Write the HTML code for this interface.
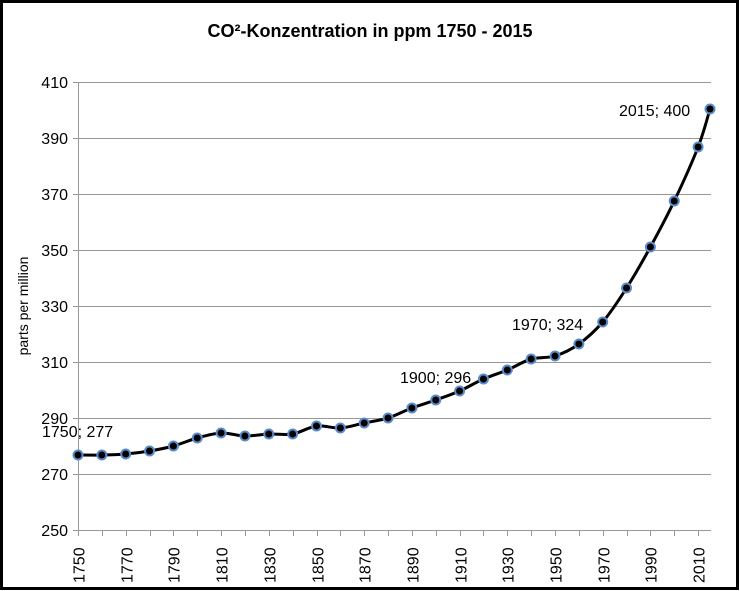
<!DOCTYPE html>
<html><head><meta charset="utf-8"><style>
html,body{margin:0;padding:0;background:#fff}
svg{display:block}
text{font-family:"Liberation Sans",sans-serif;fill:#000}
</style></head><body>
<svg id="s" width="740" height="591" viewBox="0 0 740 591" xmlns="http://www.w3.org/2000/svg">
<rect x="1.5" y="1.5" width="736" height="587" fill="#fff" stroke="#000" stroke-width="3"/>
<text x="370" y="37" text-anchor="middle" font-size="18" font-weight="bold">CO²-Konzentration in ppm 1750 - 2015</text>
<g id="grid" stroke="#999" stroke-width="1"></g>
<g id="ylab" font-size="16" text-anchor="end"></g>
<g id="xlab" font-size="16"></g>
<text transform="translate(28,306) rotate(-90)" text-anchor="middle" font-size="14">parts per million</text>
<path id="curve" fill="none" stroke="#000" stroke-width="3"/>
<g id="pts"></g>
<g font-size="16">
<text x="42" y="437">1750; 277</text>
<text x="400" y="383">1900; 296</text>
<text x="512" y="330">1970; 324</text>
<text x="619" y="116">2015; 400</text>
</g>
</svg>
<script>
var NS="http://www.w3.org/2000/svg";
function el(t,a,p){var e=document.createElementNS(NS,t);for(var k in a)e.setAttribute(k,a[k]);document.getElementById(p).appendChild(e);return e;}
var X0=78,X1=711;
for(var v=250;v<=410;v+=20){var y=82+(410-v)*2.8;
 if(v>250)el("line",{x1:X0,x2:X1,y1:y+.5,y2:y+.5},"grid");
 el("line",{x1:X0-5,x2:X0,y1:y+.5,y2:y+.5},"grid");
 var t=el("text",{x:X0-10,y:y+6},"ylab");t.textContent=v;}
el("line",{x1:X0+.5,x2:X0+.5,y1:82,y2:530},"grid");
el("line",{x1:X0,x2:X1,y1:530.5,y2:530.5},"grid");
function px(yr){return X0+(yr-1750)*2.385;}
for(var yr=1750;yr<=2010;yr+=10){var x=Math.round(px(yr))+.5;
 el("line",{x1:x,x2:x,y1:530,y2:536},"grid");
 if(yr%20==10){var t=el("text",{transform:"translate("+(x+6)+",583) rotate(-90)"},"xlab");t.textContent=yr;}}
var ys=[455,455,454,451,446,438,433,436,434,434,426,428,423,418,408,400,391,379,370,359,356,344,322,288,247,201,147,109];
var P=[];for(var i=0;i<27;i++)P.push([px(1750+i*10),ys[i]]);P.push([px(2015),ys[27]]);
var d="M"+P[0][0]+","+P[0][1];
for(var i=0;i<P.length-1;i++){var p0=P[Math.max(i-1,0)],p1=P[i],p2=P[i+1],p3=P[Math.min(i+2,P.length-1)];
 var c1=[p1[0]+(p2[0]-p0[0])/6,p1[1]+(p2[1]-p0[1])/6],c2=[p2[0]-(p3[0]-p1[0])/6,p2[1]-(p3[1]-p1[1])/6];
 d+=" C"+c1+" "+c2+" "+p2;}
document.getElementById("curve").setAttribute("d",d);
P.forEach(function(p){el("circle",{cx:p[0],cy:p[1],r:4.5,fill:"#000",stroke:"#5b8bc9","stroke-width":2},"pts");});
</script>
</body></html>
